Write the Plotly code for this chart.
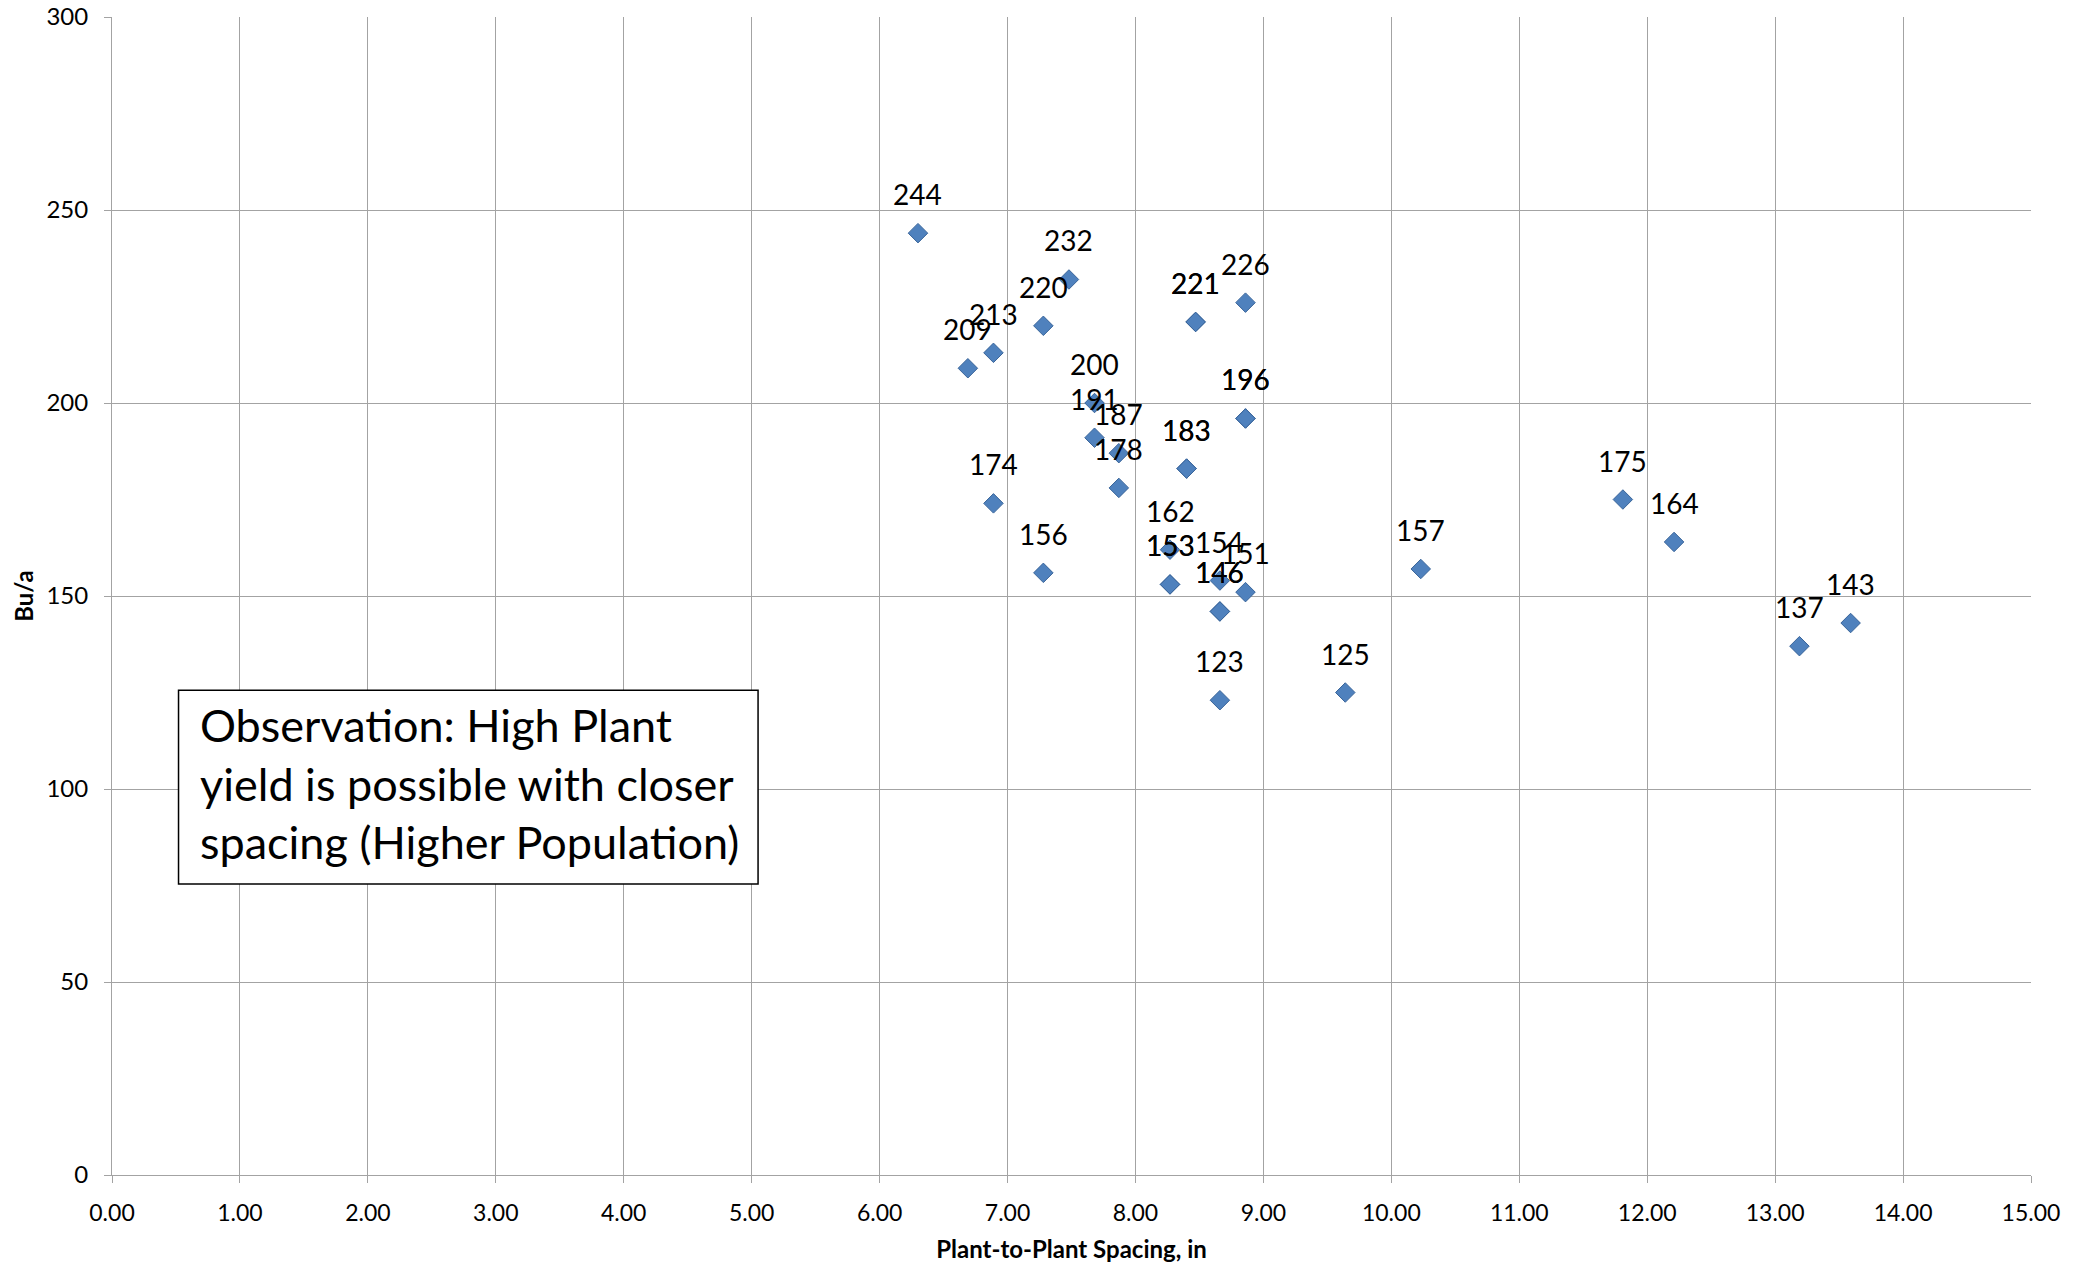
import plotly.graph_objects as go

# Plant-to-plant spacing (in) and yield (Bu/a) for each plot
spacing_in = [6.30, 7.48, 7.28, 6.89, 6.69, 8.47, 8.47, 8.86,
              7.68, 7.68, 7.87, 7.87, 8.40, 8.40, 8.86, 8.86,
              6.89, 7.28, 8.27, 8.27, 8.27, 8.66, 8.66, 8.66,
              8.86, 8.66, 9.64, 10.23, 11.81, 12.21, 13.19, 13.59]
yield_bu = [244, 232, 220, 213, 209, 221, 221, 226,
            200, 191, 187, 178, 183, 183, 196, 196,
            174, 156, 162, 153, 153, 154, 146, 146,
            151, 123, 125, 157, 175, 164, 137, 143]

x_ticks = [i for i in range(0, 16)]
x_tick_text = [f"{v:.2f}" for v in x_ticks]
y_ticks = [0, 50, 100, 150, 200, 250, 300]

note_text = ("Observation: High Plant<br>"
             "yield is possible with closer<br>"
             "spacing (Higher Population)")

FONT = "Lato, Open Sans, sans-serif"
GRID = "#A3A3A3"

fig = go.Figure()
fig.add_trace(go.Scatter(
    x=spacing_in, y=yield_bu, mode="markers",
    marker=dict(symbol="diamond", size=15, color="#4F81BD",
                line=dict(color="#3A659A", width=1)),
    showlegend=False, hoverinfo="x+y",
))

annotations = []
for xv, yv in zip(spacing_in, yield_bu):
    annotations.append(dict(
        x=xv, y=yv, xref="x", yref="y", text=str(yv), showarrow=False,
        yshift=39, xanchor="center", yanchor="middle",
        font=dict(family=FONT, size=28, color="#000000"),
    ))

annotations.append(dict(
    x=0.675, y=101.5, xref="x", yref="y", text=note_text, showarrow=False,
    xanchor="left", yanchor="middle", align="left",
    font=dict(family=FONT, size=45, color="#000000"),
))

fig.add_shape(type="rect", xref="x", yref="y", x0=0.52, x1=5.05, y0=75.4, y1=125.6,
              line=dict(color="#000000", width=1.5), fillcolor="#FFFFFF", layer="above")

fig.update_layout(
    width=2084, height=1265,
    margin=dict(l=112, r=53, t=17, b=90),
    paper_bgcolor="#FFFFFF", plot_bgcolor="#FFFFFF",
    font=dict(family=FONT, color="#000000"),
    annotations=annotations,
    xaxis=dict(
        range=[0, 15], tickvals=x_ticks, ticktext=x_tick_text, automargin=False,
        showgrid=True, gridcolor=GRID, gridwidth=1,
        zeroline=False, showline=True, linecolor=GRID, linewidth=1,
        ticks="outside", ticklen=7, tickcolor=GRID, ticklabelstandoff=10,
        tickfont=dict(family=FONT, size=23, color="#000000"),
        title=dict(text="<b>Plant-to-Plant Spacing, in</b>", standoff=16,
                   font=dict(family=FONT, size=24, color="#000000")),
    ),
    yaxis=dict(
        range=[0, 300], tickvals=y_ticks, automargin=False,
        showgrid=True, gridcolor=GRID, gridwidth=1,
        zeroline=False, showline=True, linecolor=GRID, linewidth=1,
        ticks="outside", ticklen=7, tickcolor=GRID, ticklabelstandoff=11,
        tickfont=dict(family=FONT, size=24, color="#000000"),
        title=dict(text="<b>Bu/a</b>", standoff=6,
                   font=dict(family=FONT, size=24, color="#000000")),
    ),
)

fig.write_html("out.html")
